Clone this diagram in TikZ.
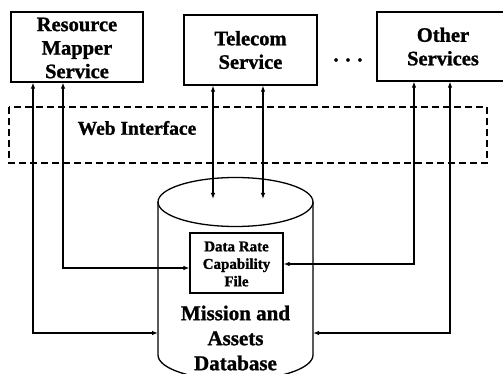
\documentclass[tikz,border=0pt]{standalone}
\usepackage{fontspec}
\setmainfont{Liberation Serif}[BoldFeatures={FakeBold=1.2}]
\usetikzlibrary{arrows.meta}
\begin{document}
\begin{tikzpicture}[x=1pt,y=-1pt,
  svcbox/.style={draw,line width=1.3pt,inner sep=0pt},
  lbl/.style={font=\fontsize{20.5}{23.5}\selectfont\bfseries,align=center},
  small/.style={font=\fontsize{15}{17.5}\selectfont\bfseries,align=center},
  link/.style={line width=1.1pt,{Latex[length=6pt,width=4.5pt]}-{Latex[length=6pt,width=4.5pt]}}]
\useasboundingbox (0,0) rectangle (503,374);
\clip (0,0) rectangle (503,374);

% service boxes
\node[svcbox,minimum width=132pt,minimum height=70pt] (rms) at (77,47) {};
\node[lbl] at (77,48) {Resource\\Mapper\\Service};
\node[svcbox,minimum width=133pt,minimum height=70pt] (tel) at (250.5,50) {};
\node[lbl] at (250.5,50) {Telecom\\Service};
\node[svcbox,minimum width=140pt,minimum height=69pt] (oth) at (447,46.5) {};
\node[lbl] at (443,46.5) {Other\\Services};
\node[lbl] (dots) at (348,60) {.\,\,.\,\,.};

% web interface layer
\draw[line width=1.2pt,dash pattern=on 7pt off 4pt] (9,107) rectangle (487,163);
\node[lbl,font=\fontsize{19.5}{22}\selectfont\bfseries] (web) at (137,128) {Web Interface};

% database cylinder
\fill[white] (158,202) -- (158,355) arc[start angle=180,end angle=0,x radius=77.5,y radius=25] -- (313,202) -- cycle;
\draw[line width=1.3pt] (158,202) -- (158,355) arc[start angle=180,end angle=0,x radius=77.5,y radius=25] -- (313,202);
\draw[line width=1.3pt] (235.5,202) ellipse[x radius=77.5,y radius=24.5];
\coordinate (dbl) at (158,333);
\coordinate (dbr) at (313,333);
\coordinate (dbt1) at (213,199);
\coordinate (dbt2) at (263,199);

% data rate file
\node[draw,line width=1.2pt,minimum width=93pt,minimum height=60pt] (drf) at (236.5,263) {};
\node[small] at (236.5,264) {Data Rate\\Capability\\File};
\node[lbl,font=\fontsize{21}{25}\selectfont\bfseries] (mad) at (235.5,338) {Mission and\\Assets\\Database};

% connectors
\draw[link] (rms.south -| 33,0) -- (33,333) -- (dbl);
\draw[link] (rms.south -| 63,0) -- (63,268) -- (drf.west |- 0,268);
\draw[link] (tel.south -| dbt1) -- (dbt1);
\draw[link] (tel.south -| dbt2) -- (dbt2);
\draw[link] (oth.south -| 414,0) -- (414,264) -- (drf.east |- 0,264);
\draw[link] (oth.south -| 450,0) -- (450,333) -- (dbr);
\end{tikzpicture}
\end{document}
